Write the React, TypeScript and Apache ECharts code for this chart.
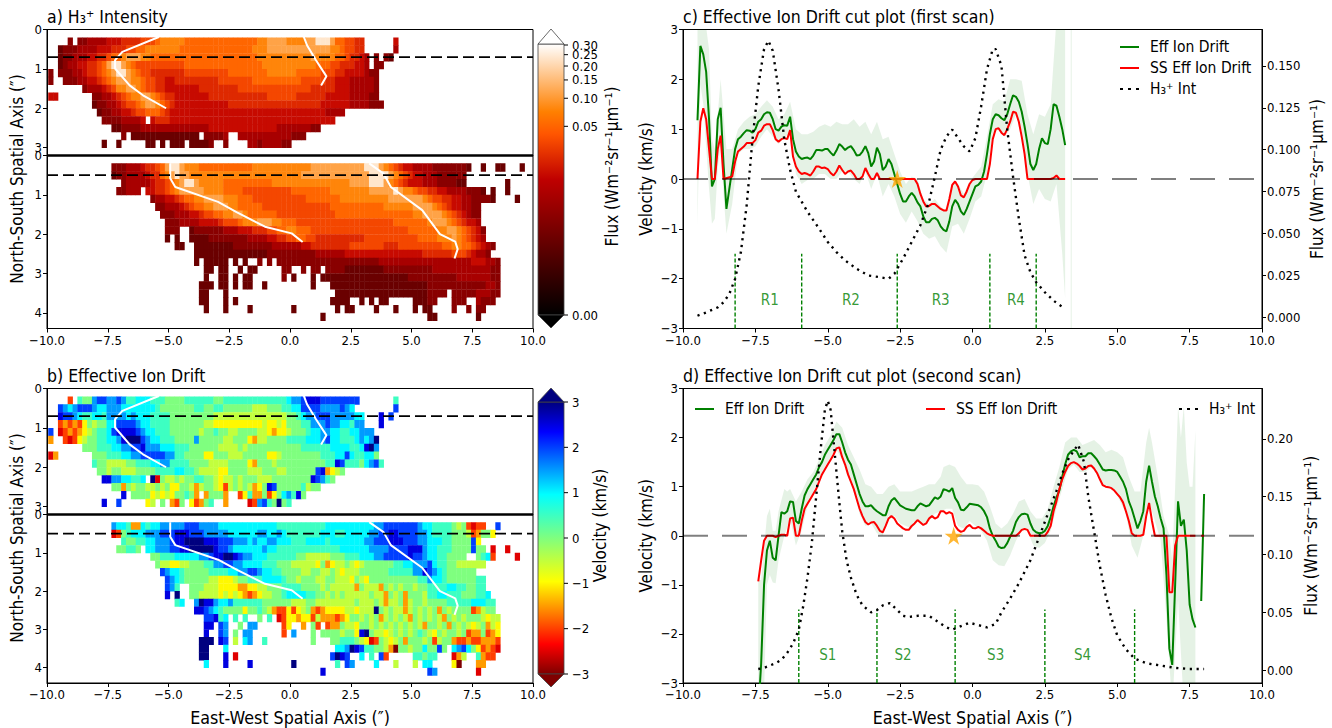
import React, { useEffect, useRef } from "react";
import * as echarts from "echarts";

const FONT = "'DejaVu Sans Condensed','DejaVu Sans',sans-serif";
const xTicks = [-10, -7.5, -5, -2.5, 0, 2.5, 5, 7.5, 10];
const fluxCodes = [0.0005, 0.0018, 0.005, 0.0114, 0.0197, 0.032, 0.05, 0.076, 0.111, 0.232];
const velCodes = [-3, -2.5, -2, -1.5, -1, -0.5, 0, 0.5, 1, 1.5, 2, 2.5, 3];
type Seg = [number, string];

const fluxUpper: Seg[][] = [
  [[4, "1"], [6, "11222233344445556777776666666666666667788887777889998665544"], [71, "3"]],
  [[2, "011122223334445566777777766666666666666677788888888888887765544"], [71, "2"]],
  [[2, "0112223344566788877666666666666666666666677777777777877776654432"], [67, "1"], [69, "1"], [70, "0"]],
  [[2, "0122334456899876555555555566666666666666667777777777766655444332"], [67, "11"]],
  [[0, "1"], [2, "1"], [3, "11223445678998765544444445555555556666666677777766666555443333211"]],
  [[0, "1"], [3, "1"], [4, "1122334567888776554433444444444555555566666666665555544333222221"]],
  [[7, "1222345778876554433333334444444455555555555555544444333222221"]],
  [[0, "3"], [1, "3"], [9, "11223456778876544333333344444444444455555544444433333222211"]],
  [[9, "011223455678876543333333333344444444444444444443333332222111"]],
  [[10, "011223345566654333333333333333333333333333333332222"]],
  [[11, "111122223"], [21, "34443333333333333333333333333333333333"]],
  [[13, "0011112222222222222233333333333333222222211"]],
  [[15, "1"], [17, "00000000000000"], [32, "11112"], [39, "22222222222111"]],
  [[11, "0"], [14, "0"], [20, "00"], [23, "0"], [25, "000"], [29, "000"], [32, "01"], [36, "1"], [41, "221222211"]],
];

const fluxLower: Seg[][] = [
  [[13, "11122234456899877766666666666777777777777888888888889998765433222211111110"], [89, "0"], [92, "00"], [97, "0"]],
  [[13, "0112222344678988777777777777777777777778888888888888899998765433222111111"]],
  [[15, "12222234456789987777766666666667777777777777777888899987654333222111100"], [94, "0"]],
  [[14, "11"], [16, "222"], [20, "3344567888887777666655555555556666666677777777888889877655443322221110"], [91, "0"], [94, "0"]],
  [[21, "1223345667788887776665555555555566666667777777777888888876554433221"], [88, "111"], [91, "0"], [96, "0"]],
  [[22, "1122234566778887766666555555555555556666666666677777788887654332211"]],
  [[23, "111222334556677887666666555555555555666666666666666677888876543211"]],
  [[24, "11122223333455567778887766655555555555555555555666666678887654332"]],
  [[24, "111"], [29, "011111122233344455667766655555555555555555555666666778876543"], [89, "1"]],
  [[24, "0"], [26, "0"], [29, "0000111111112222334455665544444444445555555555566667778765432"]],
  [[26, "00"], [30, "00000000111111112222223344444444555555544455555555566776654321"]],
  [[30, "0000000000000001111111111222222333333333333333344444455543221"]],
  [[30, "0"], [32, "000"], [35, "00"], [38, "0"], [40, "0"], [43, "1"], [45, "1"], [47, "1111111111111111111112222222222222222222333221"]],
  [[32, "00"], [35, "00"], [39, "0"], [41, "00"], [48, "11"], [52, "1"], [54, "11"], [57, "1"], [58, "11100000000111111111122222222222211"]],
  [[32, "0"], [35, "00"], [38, "0"], [40, "00"], [48, "1"], [50, "0"], [54, "0"], [56, "00"], [58, "00000000000000001111111111222222211"]],
  [[31, "00"], [33, "0"], [35, "00"], [38, "0"], [40, "00"], [44, "0"], [54, "0"], [58, "00000000000000000000111111111111221"]],
  [[31, "00"], [36, "0"], [59, "0000000000000000"], [75, "000111"], [81, "1"], [83, "1111122211"]],
  [[31, "00"], [36, "0"], [38, "0"], [58, "0000"], [64, "0"], [66, "0"], [68, "00"], [75, "000"], [78, "11"], [83, "111"], [88, "211"], [91, "1"]],
  [[32, "0"], [36, "0"], [41, "0"], [50, "0"], [59, "0"], [61, "00"], [67, "0"], [71, "0"], [75, "0"], [77, "00"], [83, "1"], [86, "1"], [88, "11"]],
  [[56, "0"], [78, "00"], [88, "0"]],
];

const velUpper: Seg[][] = [
  [[4, "c"], [6, "hggjkkjjkjhhiiihhhgggghhhhhhgghhhhhhhhhhhhhijjklllkkkkkkkk"], [71, "h"]],
  [[2, "kjijkkkjiijjjiiiiiiihggggggghhgghhggggggfffggghhiikkkkjjjjkji"], [71, "k"]],
  [[2, "lkkjihhiihjjjjijiiihhhhgggggggggfffffffffffffffgghijjkkkjjjjjii"], [68, "l"], [70, "k"]],
  [[2, "cdcdcegfggiikkkkjiihhhhgggggggffeeeeeeeeeefeefeggghhjjjkjjiihjj"], [68, "l"]],
  [[0, "k"], [2, "b"], [3, "cdcdefghhikllllkjiihhhggggggfgghggffggggffedeefggghiijjiihhiijjj"]],
  [[0, "d"], [3, "c"], [4, "bcefgghhiijlmmmkjiihhhggggjgggggffgggedffgggghhhhiiijkiihhhijijm"]],
  [[7, "ggghhhiijjkkljjjiiihhhggggggffffgfggggggggggghhhhhhiiiihhilmj"]],
  [[0, "b"], [1, "d"], [9, "ggghhhiijjkkkkkjjhhggggeegggfffgggggeefgggggggghhhiikihhiig"]],
  [[9, "hggffffgghhhiijjhhhhggggffffggggedgggfgggggggggghhlkhhhgijkh"]],
  [[10, "ggfggfffgggghhhhiihhgffffeeggggfffgggffggggggkldefg"]],
  [[11, "lljjiihhi"], [21, "mbgffgfgghhggfeffgfgggfffgggggggglkjhg"]],
  [[13, "ggdgfggffgfgeeggfdfggfecfgfgfdeglkggggghfgg"]],
  [[15, "l"], [17, "ggggefefegghgd"], [32, "dgggd"], [39, "cehddgcegijhlg"]],
  [[11, "l"], [14, "k"], [20, "ef"], [23, "g"], [25, "dcg"], [29, "ecd"], [32, "gh"], [36, "d"], [41, "bcjkhgmgh"]],
];

const velLower: Seg[][] = [
  [[13, "jiihddihiijjjjjkkkjjjjiiiiiiiiiiiihhhhhhhhhhiiiiiiiiiijjkkkkkkkjiihhhhgfgcbc"], [89, "c"], [92, "k"]],
  [[13, "bcghiiijjjkkklllkkkjjjjjiiiiiijjiijihhhhhhhiiihhiiiiijjkkllkkkkjjihhhhgggfcdgge"]],
  [[15, "hgghhiijjjkllmmmmlllkkkjjjijiijjiiihhhiiiihiiiiiiijjkkklllkkkjjiiihhggggke"]],
  [[14, "gg"], [16, "hhg"], [20, "iijjjkkllmmmmmlkkjiiiiiijiihhhhhhhhhhhhhiiiiiijjjjkkkkllljiihhhggggkgg"], [91, "b"], [94, "b"]],
  [[21, "gghhhiiiiijjkllmmlkjjiiihhhhhhggfffffggghhhiiijjkkkkklkkjiihhgggg"], [88, "ghi"], [91, "c"], [96, "b"]],
  [[22, "gffeeffggghhjjkkjjiiiihhhgggfffffegdeffgfefgggggghhiijjjkihhggffffff"]],
  [[23, "kjiihggggghhhhiijjkkjiihhggggffggffgfefffgggggghhhhhjjlkjihgggggg"]],
  [[24, "kjihgggggffeeefgghhhiiiihggfgggffggfffegfegggggggggghhjiihgggggghh"]],
  [[24, "kjh"], [29, "gggfffeeeeddeeffggghhhhggggfgfffffdgfffdgfgfggfgghhhhiihhggh"], [89, "h"]],
  [[24, "l"], [26, "m"], [29, "ggffffefefedcdeffgghiiiihhggfgfgfffffgffdgfgdgggfhhiihhhggghhi"]],
  [[26, "hi"], [30, "jmlljiijhhhhhhggggggfffggffffffffgfffgfdffgdfggfgggghhhhhiiihh"]],
  [[30, "llkjihggggegghgfdccecefgdcdeeeeffefffmgfgffdfgfgfgdgfggggcdfgg"]],
  [[32, "kkl"], [35, "hi"], [38, "h"], [40, "h"], [43, "g"], [45, "h"], [47, "bceedeecfdddcdeggfgfgdfgfgfdgfgfgfdgfgfgggfeff"]],
  [[32, "ll"], [35, "kj"], [39, "g"], [41, "jj"], [48, "ce"], [52, "d"], [54, "gc"], [57, "c"], [58, "ddgffeggfgfgfgfgfgfdggfgdgfgfefgdfe"]],
  [[32, "l"], [35, "kj"], [38, "g"], [40, "jj"], [48, "c"], [50, "j"], [54, "g"], [56, "gg"], [58, "ggfggelmgffefgfgfghgfegfggfgcddgcde"]],
  [[31, "mm"], [33, "m"], [35, "lk"], [38, "f"], [40, "ij"], [44, "h"], [54, "g"], [58, "gghhhgfebcgfefgdgggfgcfggdccdccdddc"]],
  [[31, "mm"], [36, "i"], [59, "iijmlkhhggfdaggf"], [75, "ggiggk"], [81, "g"], [83, "ijkigecdcb"]],
  [[31, "mm"], [36, "l"], [38, "b"], [58, "kmlk"], [64, "i"], [66, "h"], [68, "kc"], [75, "hhg"], [78, "hh"], [83, "bdf"], [88, "hdc"], [91, "c"]],
  [[32, "i"], [36, "l"], [41, "l"], [50, "m"], [59, "h"], [61, "kj"], [67, "i"], [71, "f"], [75, "f"], [77, "ii"], [83, "ea"], [88, "dd"]],
  [[56, "l"], [78, "kj"], [88, "b"]],
];

const ridgeUpperLeft = [[-5.4, 0.19], [-6.9, 0.57], [-7.2, 0.78], [-7.2, 0.99], [-6.6, 1.42], [-6.05, 1.67], [-5.1, 2.0]];
const ridgeUpperRight = [[0.57, 0.19], [0.7, 0.4], [1.07, 0.78], [1.5, 1.19], [1.28, 1.42]];
const ridgeLowerLeft = [[-4.93, 0.2], [-4.93, 0.58], [-4.72, 0.8], [-2.96, 1.18], [-2.2, 1.44], [-1.03, 1.81], [0.07, 1.98], [0.52, 2.2]];
const ridgeLowerRight = [[3.26, 0.2], [3.85, 0.46], [4.15, 0.8], [5.44, 1.39], [6.17, 2.0], [6.8, 2.19], [6.9, 2.38], [6.77, 2.62]];

const cGreen = [[-9.5,1.18],[-9.4,2.67],[-9.3,2.5],[-9.2,2.15],[-9.1,1.2],[-9,-0.15],[-8.9,0],[-8.8,1.2],[-8.7,1.43],[-8.6,0.3],[-8.5,-0.6],[-8.4,-0.2],[-8.3,0.2],[-8.2,0.6],[-8.1,0.8],[-8,0.85],[-7.9,0.92],[-7.8,0.98],[-7.7,0.97],[-7.6,0.93],[-7.5,1],[-7.4,1.15],[-7.3,1.2],[-7.2,1.3],[-7.1,1.34],[-7,1.33],[-6.9,1.2],[-6.8,1],[-6.7,0.97],[-6.6,1.05],[-6.5,1.08],[-6.4,1.07],[-6.3,1.25],[-6.2,0.8],[-6.1,0.55],[-6,0.45],[-5.9,0.4],[-5.8,0.42],[-5.7,0.43],[-5.6,0.4],[-5.5,0.47],[-5.4,0.58],[-5.3,0.58],[-5.2,0.57],[-5.1,0.6],[-5,0.6],[-4.9,0.53],[-4.8,0.47],[-4.7,0.57],[-4.6,0.7],[-4.5,0.65],[-4.4,0.58],[-4.3,0.63],[-4.2,0.66],[-4.1,0.58],[-4,0.47],[-3.9,0.48],[-3.8,0.55],[-3.7,0.66],[-3.6,0.52],[-3.5,0.25],[-3.4,0.35],[-3.3,0.63],[-3.2,0.5],[-3.1,0.18],[-3,0.25],[-2.9,0.4],[-2.8,0.3],[-2.7,0.1],[-2.6,-0.1],[-2.5,-0.3],[-2.4,-0.45],[-2.3,-0.45],[-2.2,-0.35],[-2.1,-0.28],[-2,-0.35],[-1.9,-0.47],[-1.8,-0.55],[-1.7,-0.75],[-1.6,-0.87],[-1.5,-0.87],[-1.4,-0.8],[-1.3,-0.78],[-1.2,-0.83],[-1.1,-0.95],[-1,-1.02],[-0.9,-1.05],[-0.8,-0.85],[-0.7,-0.55],[-0.6,-0.42],[-0.5,-0.5],[-0.4,-0.65],[-0.3,-0.72],[-0.2,-0.6],[-0.1,-0.45],[0,-0.3],[0.1,-0.15],[0.2,-0.12],[0.3,-0.05],[0.4,0.15],[0.5,0.5],[0.6,0.9],[0.7,1.2],[0.8,1.3],[0.9,1.28],[1,1.22],[1.1,1.18],[1.2,1.3],[1.3,1.5],[1.4,1.68],[1.5,1.65],[1.6,1.55],[1.7,1.35],[1.8,1.05],[1.9,0.7],[2,0.3],[2.1,0.18],[2.2,0.3],[2.3,0.6],[2.4,0.82],[2.5,0.72],[2.6,0.7],[2.7,1],[2.8,1.5],[2.9,1.47],[3,1.25],[3.1,1],[3.2,0.68]];
const cRed = [[-9.5,0],[-9.4,1.15],[-9.3,1.42],[-9.2,1.2],[-9.1,0.6],[-9,0],[-8.9,0],[-8.8,0.6],[-8.7,0.87],[-8.6,0],[-8.3,0.05],[-8.2,0.35],[-8.1,0.55],[-8,0.6],[-7.9,0.65],[-7.8,0.72],[-7.7,0.72],[-7.6,0.72],[-7.5,0.78],[-7.4,0.93],[-7.3,0.97],[-7.2,1.07],[-7.1,1.1],[-7,1.1],[-6.9,0.98],[-6.8,0.8],[-6.7,0.75],[-6.6,0.8],[-6.5,0.82],[-6.4,0.8],[-6.3,0.98],[-6.2,0.45],[-6.1,0.25],[-6,0.15],[-5.9,0.1],[-5.8,0.12],[-5.7,0.1],[-5.6,0.07],[-5.5,0.15],[-5.4,0.25],[-5.3,0.25],[-5.2,0.22],[-5.1,0.23],[-5,0.2],[-4.9,0.12],[-4.8,0.07],[-4.7,0.15],[-4.6,0.27],[-4.5,0.18],[-4.4,0.1],[-4.3,0.15],[-4.2,0.17],[-4.1,0.1],[-4,0],[-3.9,0],[-3.8,0.05],[-3.7,0.22],[-3.6,0.1],[-3.5,0],[-3.4,0],[-3.3,0.12],[-3.2,0],[-2,0],[-1.9,-0.1],[-1.8,-0.3],[-1.7,-0.45],[-1.6,-0.55],[-1.5,-0.54],[-1.4,-0.5],[-1.3,-0.5],[-1.2,-0.55],[-1.1,-0.6],[-1,-0.63],[-0.9,-0.63],[-0.8,-0.4],[-0.7,-0.12],[-0.6,-0.05],[-0.5,-0.15],[-0.4,-0.33],[-0.3,-0.37],[-0.2,-0.25],[-0.1,-0.1],[0,-0.02],[0.1,0],[0.5,0],[0.6,0.3],[0.7,0.8],[0.8,1],[0.9,1.02],[1,0.93],[1.1,0.88],[1.2,1],[1.3,1.15],[1.4,1.35],[1.5,1.33],[1.6,1.15],[1.7,0.85],[1.8,0.5],[1.9,0],[2.7,0],[2.8,0.02],[2.9,0.07],[3,0],[3.2,0]];
const cBandUpper = [[-9.5,3.5],[-9.3,3.5],[-9.1,2.6],[-9,0.8],[-8.9,0.6],[-8.7,2],[-8.5,0.6],[-8.3,0.6],[-8.1,1],[-7.9,1.15],[-7.7,1.25],[-7.5,1.3],[-7.3,1.45],[-7.1,1.58],[-6.9,1.45],[-6.7,1.2],[-6.5,1.3],[-6.3,1.55],[-6.1,1],[-5.9,0.9],[-5.7,0.9],[-5.5,0.95],[-5.3,1.05],[-5.1,1.1],[-4.9,1.05],[-4.7,1.15],[-4.5,1.1],[-4.3,1.1],[-4.1,1.2],[-3.9,1.05],[-3.7,1.15],[-3.5,0.9],[-3.3,1.15],[-3.1,0.8],[-2.9,0.85],[-2.7,0.5],[-2.5,0.15],[-2.3,-0.1],[-2.1,0.05],[-1.9,0],[-1.7,-0.4],[-1.5,-0.5],[-1.3,-0.4],[-1.1,-0.55],[-0.9,-0.65],[-0.7,-0.1],[-0.5,-0.1],[-0.3,-0.3],[-0.1,-0.05],[0.1,0.1],[0.3,0.25],[0.5,0.85],[0.7,1.5],[0.9,1.6],[1.1,1.55],[1.3,2],[1.5,2],[1.7,1.97],[1.9,1.3],[2.1,0.9],[2.3,1.3],[2.5,1.25],[2.7,1.5],[2.9,3.2],[3.1,3.5],[3.2,3.5]];
const cBandLower = [[-9.5,-0.95],[-9.4,1.9],[-9.3,1.5],[-9.1,-0.2],[-9,-0.9],[-8.9,-0.8],[-8.8,0.2],[-8.7,0.7],[-8.6,-0.3],[-8.5,-1.1],[-8.3,-0.5],[-8.1,0.5],[-7.9,0.6],[-7.7,0.6],[-7.5,0.65],[-7.3,0.85],[-7.1,1],[-6.9,0.85],[-6.7,0.7],[-6.5,0.85],[-6.3,0.9],[-6.1,0.1],[-5.9,-0.1],[-5.7,-0.02],[-5.5,0],[-5.3,0.1],[-5.1,0.1],[-4.9,0],[-4.7,0],[-4.5,0.15],[-4.3,0.15],[-4.1,0],[-3.9,-0.1],[-3.7,0.15],[-3.5,-0.2],[-3.3,0.1],[-3.1,-0.35],[-2.9,-0.1],[-2.7,-0.35],[-2.5,-0.7],[-2.3,-0.88],[-2.1,-0.65],[-1.9,-0.85],[-1.7,-1.1],[-1.5,-1.2],[-1.3,-1.15],[-1.1,-1.35],[-0.9,-1.48],[-0.7,-0.95],[-0.5,-0.9],[-0.3,-1.1],[-0.1,-0.8],[0.1,-0.45],[0.3,-0.35],[0.5,0.1],[0.7,0.9],[0.9,1],[1.1,0.85],[1.3,1],[1.5,1.3],[1.7,0.95],[1.9,0.1],[2.1,-0.5],[2.3,-0.2],[2.5,-0.4],[2.7,-0.45],[2.9,-0.1],[3.1,-1.5],[3.2,-2.4]];
const cFlux = [[-9.5,0.001],[-9.2,0.003],[-8.8,0.006],[-8.6,0.009],[-8.4,0.014],[-8.2,0.023],[-8,0.039],[-7.8,0.067],[-7.6,0.106],[-7.4,0.138],[-7.2,0.16],[-7.05,0.165],[-6.9,0.159],[-6.7,0.136],[-6.5,0.106],[-6.3,0.088],[-6.1,0.075],[-5.9,0.069],[-5.7,0.063],[-5.5,0.058],[-5.3,0.053],[-5,0.045],[-4.7,0.039],[-4.4,0.034],[-4,0.029],[-3.6,0.025],[-3.2,0.024],[-2.9,0.023],[-2.7,0.026],[-2.4,0.035],[-2.1,0.045],[-1.8,0.055],[-1.5,0.069],[-1.3,0.084],[-1.1,0.1],[-0.9,0.108],[-0.7,0.112],[-0.5,0.107],[-0.3,0.102],[-0.1,0.099],[0.1,0.107],[0.3,0.126],[0.5,0.148],[0.7,0.16],[0.8,0.16],[1,0.15],[1.2,0.112],[1.4,0.084],[1.6,0.059],[1.8,0.037],[2,0.027],[2.2,0.021],[2.5,0.015],[2.8,0.01],[3.2,0.005]];
const cEdge = [[3.41, -3], [3.41, 3]];
const cRegionX = [-8.2, -5.9, -2.6, 0.6, 2.2];
const cRegionLabels = [["R1", -7], ["R2", -4.2], ["R3", -1.1], ["R4", 1.5]];
const cStar = [[-2.6, 0]];

const dGreen = [[-7.35,-3.1],[-7.3,-2.6],[-7.2,-1],[-7.1,-0.3],[-7,-0.1],[-6.9,-0.45],[-6.8,-0.5],[-6.7,0],[-6.6,0.48],[-6.5,0.45],[-6.4,0.5],[-6.3,0.7],[-6.2,0.69],[-6.1,0.3],[-6,0.25],[-5.9,0.55],[-5.8,0.82],[-5.7,0.95],[-5.6,1.05],[-5.5,1.15],[-5.4,1.25],[-5.3,1.4],[-5.2,1.5],[-5.1,1.65],[-5,1.75],[-4.9,1.85],[-4.8,1.95],[-4.7,2.07],[-4.6,2.07],[-4.5,1.9],[-4.4,1.7],[-4.3,1.55],[-4.2,1.45],[-4.1,1.25],[-4,1.05],[-3.9,0.85],[-3.8,0.7],[-3.7,0.6],[-3.6,0.6],[-3.5,0.62],[-3.4,0.55],[-3.3,0.5],[-3.1,0.42],[-3,0.42],[-2.9,0.6],[-2.8,0.72],[-2.7,0.77],[-2.5,0.62],[-2.3,0.55],[-2.1,0.52],[-2,0.52],[-1.9,0.6],[-1.8,0.66],[-1.6,0.6],[-1.5,0.62],[-1.4,0.7],[-1.3,0.78],[-1.2,0.75],[-1.1,0.8],[-1,0.95],[-0.9,0.93],[-0.8,0.9],[-0.7,0.97],[-0.6,0.77],[-0.5,0.68],[-0.4,0.53],[-0.3,0.52],[-0.2,0.58],[-0.1,0.65],[0,0.64],[0.1,0.63],[0.2,0.62],[0.3,0.58],[0.4,0.5],[0.5,0.38],[0.6,0.15],[0.7,0],[0.8,-0.1],[0.9,-0.22],[1,-0.25],[1.1,-0.24],[1.2,-0.15],[1.3,-0.02],[1.4,0.1],[1.5,0.28],[1.6,0.38],[1.7,0.44],[1.8,0.45],[1.9,0.43],[2,0.25],[2.1,0.12],[2.2,0.07],[2.3,0.05],[2.4,0.06],[2.5,0.1],[2.6,0.2],[2.7,0.38],[2.8,0.6],[2.9,0.78],[3,0.92],[3.1,1.2],[3.2,1.45],[3.3,1.65],[3.4,1.72],[3.5,1.75],[3.6,1.72],[3.7,1.6],[3.8,1.62],[3.9,1.62],[4,1.68],[4.1,1.68],[4.2,1.62],[4.3,1.55],[4.4,1.45],[4.5,1.35],[4.6,1.33],[4.7,1.34],[4.8,1.34],[4.9,1.33],[5,1.3],[5.1,1.2],[5.2,1.1],[5.3,0.95],[5.4,0.7],[5.5,0.55],[5.6,0.35],[5.7,0.15],[5.8,0.3],[5.9,0.5],[6,1.1],[6.1,1.43],[6.2,1.1],[6.3,0.8],[6.4,0.6],[6.5,0.35],[6.6,0.15],[6.7,-0.8],[6.8,-2.3],[6.9,-2.63],[7,-1],[7.1,0.7],[7.2,0.2],[7.3,0.33],[7.4,-0.3],[7.5,-1.4],[7.6,-1.7],[7.7,-1.87],[7.8,null],[7.9,-1.33],[8,0.85]];
const dRed = [[-7.4,-0.93],[-7.3,-0.5],[-7.2,-0.1],[-7.1,0],[-6.9,0],[-6.8,-0.03],[-6.7,0],[-6.6,0.02],[-6.5,0.02],[-6.4,0],[-6.3,0.35],[-6.2,0.37],[-6.1,0],[-6,0],[-5.9,0.3],[-5.8,0.55],[-5.7,0.65],[-5.6,0.75],[-5.5,0.85],[-5.4,0.95],[-5.3,1.1],[-5.2,1.25],[-5.1,1.35],[-5,1.45],[-4.9,1.55],[-4.8,1.65],[-4.7,1.78],[-4.6,1.8],[-4.5,1.6],[-4.4,1.45],[-4.3,1.25],[-4.2,1.1],[-4.1,0.95],[-4,0.75],[-3.9,0.55],[-3.8,0.4],[-3.7,0.28],[-3.6,0.23],[-3.5,0.27],[-3.4,0.28],[-3.3,0.2],[-3.2,0.1],[-3.1,0.07],[-3,0.2],[-2.9,0.35],[-2.8,0.4],[-2.7,0.35],[-2.6,0.25],[-2.5,0.2],[-2.4,0.15],[-2.3,0.12],[-2.2,0.12],[-2.1,0.2],[-2,0.25],[-1.9,0.32],[-1.8,0.27],[-1.7,0.22],[-1.6,0.25],[-1.5,0.35],[-1.4,0.4],[-1.3,0.35],[-1.2,0.38],[-1.1,0.5],[-1,0.5],[-0.9,0.45],[-0.8,0.48],[-0.7,0.45],[-0.6,0.2],[-0.5,0.12],[-0.4,0.08],[-0.3,0.1],[-0.2,0.18],[-0.1,0.22],[0,0.16],[0.1,0.15],[0.2,0.18],[0.3,0.15],[0.4,0.1],[0.5,0.05],[0.6,0.02],[0.7,0],[1.5,0],[1.6,0.05],[1.7,0.12],[1.8,0.14],[1.9,0.12],[2,0],[2.5,0],[2.6,0.08],[2.7,0.2],[2.8,0.5],[2.9,0.7],[3,0.95],[3.1,1.15],[3.2,1.3],[3.3,1.42],[3.4,1.48],[3.5,1.5],[3.6,1.47],[3.7,1.42],[3.8,1.35],[3.9,1.37],[4,1.42],[4.1,1.43],[4.2,1.37],[4.3,1.28],[4.4,1.15],[4.5,1.03],[4.6,1],[4.7,0.99],[4.8,0.97],[4.9,0.92],[5,0.85],[5.1,0.78],[5.2,0.68],[5.3,0.5],[5.4,0.3],[5.5,0.05],[5.6,0],[5.8,0],[5.9,0.02],[6,0.4],[6.1,0.67],[6.2,0.3],[6.3,0],[6.7,0],[6.8,-1.15],[6.9,-1.15],[7,-0.2],[7.1,0],[7.7,0],[7.8,null],[7.9,0],[8,0]];
const dBandUpper = [[-7.4,-0.9],[-7.3,-0.9],[-7.1,0.4],[-7,0.55],[-6.9,0.1],[-6.8,0.1],[-6.7,0.5],[-6.5,0.95],[-6.4,0.9],[-6.3,0.95],[-6.1,0.7],[-5.9,0.9],[-5.7,1.15],[-5.5,1.3],[-5.3,1.55],[-5.1,1.85],[-4.9,2.05],[-4.7,2.33],[-4.5,2.2],[-4.3,1.85],[-4.1,1.6],[-3.9,1.35],[-3.7,1.05],[-3.5,1],[-3.3,0.85],[-3.1,0.85],[-2.9,1],[-2.7,1.05],[-2.5,0.9],[-2.3,0.9],[-2.1,0.9],[-1.9,0.95],[-1.7,1],[-1.5,1.05],[-1.3,1.05],[-1.1,1.2],[-1,1.4],[-0.8,1.45],[-0.6,1.4],[-0.4,1.2],[-0.2,1.05],[0,1.05],[0.2,1.03],[0.4,0.9],[0.6,0.6],[0.8,0.25],[1,0.15],[1.2,0.25],[1.4,0.45],[1.6,0.7],[1.8,0.75],[2,0.5],[2.2,0.35],[2.4,0.35],[2.6,0.55],[2.8,1],[3,1.4],[3.2,1.9],[3.4,2],[3.6,2],[3.8,1.85],[4,1.9],[4.2,1.95],[4.4,1.85],[4.6,1.7],[4.8,1.75],[5,1.7],[5.2,1.6],[5.4,1.2],[5.6,0.9],[5.8,0.9],[6,1.9],[6.1,2.2],[6.2,1.9],[6.4,1.2],[6.6,0.4],[6.8,0],[6.9,-0.5],[7,1],[7.1,2.65],[7.2,2],[7.3,2.65],[7.4,1.5],[7.5,1],[7.6,1],[7.7,2.15]];
const dBandLower = [[-7.4,-3.2],[-7.2,-3.2],[-7.1,-1],[-7,-0.8],[-6.9,-0.95],[-6.8,-0.97],[-6.7,-0.5],[-6.5,0],[-6.3,0.35],[-6.1,-0.2],[-5.9,0.1],[-5.7,0.6],[-5.5,0.9],[-5.3,1.15],[-5.1,1.4],[-4.9,1.6],[-4.7,1.75],[-4.5,1.55],[-4.3,1.2],[-4.1,0.9],[-3.9,0.45],[-3.7,0.2],[-3.5,0.25],[-3.3,0.05],[-3.1,0],[-2.9,0.4],[-2.7,0.4],[-2.5,0.25],[-2.3,0.2],[-2.1,0.15],[-1.9,0.3],[-1.7,0.25],[-1.5,0.3],[-1.3,0.45],[-1.1,0.5],[-0.9,0.55],[-0.7,0.55],[-0.5,0.2],[-0.3,0.15],[-0.1,0.3],[0.1,0.2],[0.3,0.1],[0.5,-0.1],[0.7,-0.5],[0.9,-0.6],[1.1,-0.62],[1.3,-0.4],[1.5,-0.1],[1.7,0.1],[1.9,0.1],[2.1,-0.2],[2.3,-0.25],[2.5,-0.15],[2.7,0.1],[2.9,0.55],[3.1,0.95],[3.3,1.35],[3.5,1.45],[3.7,1.3],[3.9,1.3],[4.1,1.4],[4.3,1.25],[4.5,1],[4.7,1],[4.9,0.95],[5.1,0.7],[5.3,0.45],[5.5,-0.2],[5.7,-0.45],[5.9,0],[6.1,0.7],[6.3,0.3],[6.5,-0.1],[6.7,-1.7],[6.9,-3.5],[7.1,-1.3],[7.3,-3.5],[7.5,-3.2],[7.7,-3.2]];
const dFlux = [[-7.4,0.001],[-7.2,0.002],[-7,0.004],[-6.8,0.006],[-6.6,0.009],[-6.4,0.015],[-6.2,0.023],[-6,0.035],[-5.85,0.055],[-5.7,0.08],[-5.55,0.11],[-5.4,0.15],[-5.25,0.19],[-5.1,0.225],[-5,0.233],[-4.9,0.225],[-4.75,0.185],[-4.6,0.145],[-4.5,0.12],[-4.35,0.095],[-4.2,0.08],[-4,0.065],[-3.8,0.056],[-3.5,0.05],[-3.3,0.052],[-3.1,0.056],[-2.85,0.058],[-2.6,0.052],[-2.4,0.047],[-2.2,0.046],[-1.9,0.047],[-1.5,0.047],[-1.2,0.042],[-0.9,0.037],[-0.7,0.035],[-0.4,0.038],[-0.1,0.041],[0.2,0.039],[0.5,0.037],[0.8,0.04],[1,0.05],[1.3,0.062],[1.6,0.075],[2,0.095],[2.3,0.115],[2.6,0.135],[2.9,0.155],[3.1,0.17],[3.3,0.182],[3.5,0.19],[3.65,0.195],[3.85,0.18],[4,0.15],[4.2,0.12],[4.4,0.09],[4.6,0.065],[4.8,0.045],[5,0.03],[5.3,0.018],[5.6,0.01],[6,0.006],[6.5,0.004],[7,0.002],[7.5,0.001],[8,0.001]];
const dRegionX = [-6, -3.3, -0.6, 2.5, 5.6];
const dRegionLabels = [["S1", -5], ["S2", -2.4], ["S3", 0.8], ["S4", 3.8]];
const dStar = [[-0.65, 0]];
const fluxBarTicks = [0.3, 0.25, 0.2, 0.15, 0.1, 0.05, 0];
const velBarTicks = [3, 2, 1, 0, -1, -2, -3];
const cFluxTicks = [0, 0.025, 0.05, 0.075, 0.1, 0.125, 0.15];
const dFluxTicks = [0, 0.05, 0.1, 0.15, 0.2];

const CELL = 0.2;
const decode = (rows: Seg[][], table: (c: string) => number) => {
  const out: number[][] = [];
  rows.forEach((segs, r) => segs.forEach(([start, s]) => {
    for (let k = 0; k < s.length; k++) out.push([-9.95 + CELL * (start + k), CELL * (r + 1), table(s[k])]);
  }));
  return out;
};
const fluxOf = (c: string) => fluxCodes[+c];
const velOf = (c: string) => velCodes[c.charCodeAt(0) - 97];

type Stops = [number, number[]][];
const gistHeatStops: Stops = [[0, [0, 0, 0]], [0.5, [191, 0, 0]], [2 / 3, [255, 85, 0]], [0.75, [255, 128, 0]], [1, [255, 255, 255]]];
const jetStops: Stops = [[0, [0, 0, 127]], [0.11, [0, 0, 255]], [0.34, [0, 255, 255]], [0.5, [127, 255, 127]], [0.66, [255, 255, 0]], [0.89, [255, 0, 0]], [1, [127, 0, 0]]];
const ramp = (stops: Stops, t: number) => {
  t = Math.max(0, Math.min(1, t));
  for (let i = 1; i < stops.length; i++) {
    if (t <= stops[i][0]) {
      const [a, ca] = stops[i - 1], [b, cb] = stops[i], f = (t - a) / (b - a);
      return `rgb(${ca.map((v, k) => Math.round(v + (cb[k] - v) * f)).join(",")})`;
    }
  }
  return "#fff";
};
const fluxT = (v: number) => Math.pow(v / 0.3, 0.2);
const velColor = (v: number) => ramp(jetStops, (3 - v) / 6);
const fluxColor = (v: number) => ramp(gistHeatStops, fluxT(v));

const cellSeries = (idx: number, data: number[][], color: (v: number) => string) => ({
  type: "custom", xAxisIndex: idx, yAxisIndex: idx, data, silent: true, clip: true, z: 1,
  encode: { x: 0, y: 1 },
  renderItem: (_: any, api: any) => {
    const x = api.value(0), y = api.value(1);
    const a = api.coord([x, y]), b = api.coord([x + CELL, y + CELL]);
    return { type: "rect", shape: { x: a[0], y: a[1], width: b[0] - a[0] + 0.4, height: b[1] - a[1] + 0.4 }, style: { fill: color(api.value(2)) } };
  },
});
const overlay = (idx: number, data: number[][], color: string, width: number, dash: any = "solid", z = 3) => ({
  type: "line", xAxisIndex: idx, yAxisIndex: idx, data, symbol: "none", silent: true, z,
  lineStyle: { color, width, type: dash },
});
const bandSeries = (xIdx: number, yIdx: number, up: number[][], lo: number[][]) => {
  const pts = [...up, ...[...lo].reverse()];
  return {
    type: "custom", xAxisIndex: xIdx, yAxisIndex: yIdx, data: pts, silent: true, clip: true, z: 1,
    encode: { x: 0, y: 1 },
    renderItem: (params: any, api: any) => params.dataIndex !== 0 ? null : ({
      type: "polygon", shape: { points: pts.map((p) => api.coord(p)) }, style: { fill: "rgba(0,128,0,0.1)" },
    }),
  };
};
const ticksConf = (vals: number[], fmt: (v: number) => string) => ({
  axisLine: { onZero: false, lineStyle: { color: "#000" } },
  axisTick: { show: true, length: 4, customValues: vals, lineStyle: { color: "#000" } },
  axisLabel: { show: true, customValues: vals, formatter: fmt, color: "#000", fontFamily: FONT, fontSize: 13, margin: 5 },
  splitLine: { show: false },
});
const minus = (s: string) => s.replace("-", "\u2212");
const xAxisConf = (grid: number, show: boolean, name?: string) => ({
  type: "value", gridIndex: grid, min: -10, max: 10, interval: 2.5,
  ...ticksConf(xTicks, (v) => minus(v.toFixed(1))),
  ...(show ? {} : { axisTick: { show: false }, axisLabel: { show: false } }),
  name, nameLocation: "middle", nameGap: 26, nameTextStyle: { fontFamily: FONT, fontSize: 17.7, color: "#000" },
});
const yMapConf = (grid: number, max: number, vals: number[]) => ({
  type: "value", gridIndex: grid, inverse: true, min: 0, max,
  ...ticksConf(vals, (v) => String(v)),
});
const nameStyle = { fontFamily: FONT, fontSize: 17, color: "#000" };

const colorBar = (top: number, bottom: number, tip0: number, tip1: number, stops: Stops, posFn: (v: number) => number, ticks: number[], fmt: (v: number) => string, label: string, labelX: number, topFill: string, botFill: string, barTop: number) => {
  const x0 = 538, x1 = 564, mid = 551;
  const edge = "#444";
  const els: any[] = [
    { type: "rect", shape: { x: x0, y: top, width: x1 - x0, height: bottom - top }, style: { fill: { type: "linear", x: 0, y: 0, x2: 0, y2: 1, colorStops: stops.map(([t, c]) => ({ offset: t, color: `rgb(${c.join(",")})` })) }, stroke: edge, lineWidth: 0.8 } },
    { type: "polygon", shape: { points: [[x0, top], [mid, tip0], [x1, top]] }, style: { fill: topFill, stroke: edge, lineWidth: 0.8 } },
    { type: "polygon", shape: { points: [[x0, bottom], [mid, tip1], [x1, bottom]] }, style: { fill: botFill, stroke: edge, lineWidth: 0.8 } },
    { type: "text", x: labelX, y: (tip0 + tip1) / 2 - 12, rotation: Math.PI / 2, style: { text: label, fontFamily: FONT, fontSize: 17, fill: "#000", align: "center", verticalAlign: "middle" } },
  ];
  ticks.forEach((v) => {
    const y = bottom - (bottom - barTop) * posFn(v);
    els.push({ type: "line", shape: { x1, y1: y, x2: x1 + 4, y2: y }, style: { stroke: "#000", lineWidth: 1 } });
    els.push({ type: "text", x: x1 + 8, y, style: { text: fmt(v), fontFamily: FONT, fontSize: 13, fill: "#000", verticalAlign: "middle" } });
  });
  return els;
};
const plainText = (text: string, x: number, y: number, size: number, rotation = 0) => ({
  type: "text", x, y, rotation, style: { text, fontFamily: FONT, fontSize: size, fill: "#000", align: rotation ? "center" : "left", verticalAlign: "middle" },
});
const regionSeries = (xIdx: number, yIdx: number, xs: number[]) => xs.map((x) => ({
  type: "line", xAxisIndex: xIdx, yAxisIndex: yIdx, symbol: "none", silent: true, z: 3,
  data: [[x, -3], [x, -1.5]], lineStyle: { color: "#008000", width: 1.4, type: [4, 2] },
}));
const labelSeries = (xIdx: number, yIdx: number, items: any[]) => ({
  type: "scatter", xAxisIndex: xIdx, yAxisIndex: yIdx, symbolSize: 1, silent: true, itemStyle: { color: "transparent" },
  data: items.map(([n, x]) => ({ name: n, value: [x, -2.42] })),
  label: { show: true, position: "inside", formatter: "{b}", color: "#008000", fontFamily: FONT, fontSize: 15 },
  z: 4,
});
const starPath = "path://M50 0 L61 35 L98 35 L68 57 L79 91 L50 70 L21 91 L32 57 L2 35 L39 35 Z";
const starSeries = (xIdx: number, yIdx: number, data: number[][]) => ({
  type: "scatter", xAxisIndex: xIdx, yAxisIndex: yIdx, data, symbol: starPath, symbolSize: 18, silent: true, z: 6,
  itemStyle: { color: "#ffa500" },
});
const zeroLine = (xIdx: number, yIdx: number) => ({
  type: "line", xAxisIndex: xIdx, yAxisIndex: yIdx, data: [[-10, 0], [10, 0]], symbol: "none", silent: true, z: 5,
  lineStyle: { color: "rgba(0,0,0,0.5)", width: 2, type: [25, 14] },
});
const curve = (name: string, xIdx: number, yIdx: number, data: any[], color: string, dash: any = "solid", width = 2) => ({
  name, type: "line", xAxisIndex: xIdx, yAxisIndex: yIdx, data, symbol: "none", z: 4,
  lineStyle: { color, width, type: dash }, itemStyle: { color },
});
const LGREEN = "Eff Ion Drift", LRED = "SS Eff Ion Drift", LDOT = "H\u2083\u207A Int";
const lineIcon = "path://M0 0H19V2H0Z";
const dotIcon = "path://M0 0H3V2H0Z M8 0H11V2H8Z M16 0H19V2H16Z";
const legendData = (n: string) => ({ name: n, icon: n === LDOT ? dotIcon : lineIcon });
const legendBase = { itemWidth: 19, itemHeight: 2, selectedMode: false, itemGap: 5, padding: 0, textStyle: { fontFamily: FONT, fontSize: 15.5, color: "#000", padding: [0, 0, 0, 6] } };
const sepLine = (y: number) => ({ type: "line", z: 50, shape: { x1: 47, y1: y, x2: 533, y2: y }, style: { stroke: "#000", lineWidth: 2.6 } });

const option: any = {
  animation: false,
  backgroundColor: "#fff",
  grid: [
    { left: 47, top: 29.5, width: 486, height: 126 },
    { left: 47, top: 155.5, width: 486, height: 173 },
    { left: 47, top: 388.5, width: 486, height: 126 },
    { left: 47, top: 514.5, width: 486, height: 173 },
    { left: 683, top: 29.5, width: 579, height: 299 },
    { left: 683, top: 388.5, width: 579, height: 299 },
  ].map((g) => ({ ...g, show: true, borderColor: "#000", borderWidth: 1, containLabel: false })),
  xAxis: [
    xAxisConf(0, false), xAxisConf(1, true), xAxisConf(2, false),
    xAxisConf(3, true, "East-West Spatial Axis (\u2033)"),
    xAxisConf(4, true), xAxisConf(5, true, "East-West Spatial Axis (\u2033)"),
  ],
  yAxis: [
    yMapConf(0, 3.2, [0, 1, 2, 3]), yMapConf(1, 4.4, [0, 1, 2, 3, 4]),
    yMapConf(2, 3.2, [0, 1, 2, 3]), yMapConf(3, 4.4, [0, 1, 2, 3, 4]),
    { type: "value", gridIndex: 4, min: -3, max: 3, interval: 1, ...ticksConf([-3, -2, -1, 0, 1, 2, 3], (v) => minus(String(v))), name: "Velocity (km/s)", nameLocation: "middle", nameGap: 29, nameTextStyle: nameStyle },
    { type: "value", gridIndex: 5, min: -3, max: 3, interval: 1, ...ticksConf([-3, -2, -1, 0, 1, 2, 3], (v) => minus(String(v))), name: "Velocity (km/s)", nameLocation: "middle", nameGap: 29, nameTextStyle: nameStyle },
    { type: "value", gridIndex: 4, position: "right", min: -0.0066, max: 0.1717, ...ticksConf(cFluxTicks, (v) => v.toFixed(3)), name: "Flux (Wm\u207B\u00B2sr\u207B\u00B9\u03BCm\u207B\u00B9)", nameLocation: "middle", nameGap: 46, nameRotate: 90, nameTextStyle: nameStyle },
    { type: "value", gridIndex: 5, position: "right", min: -0.0111, max: 0.2436, ...ticksConf(dFluxTicks, (v) => v.toFixed(2)), name: "Flux (Wm\u207B\u00B2sr\u207B\u00B9\u03BCm\u207B\u00B9)", nameLocation: "middle", nameGap: 40, nameRotate: 90, nameTextStyle: nameStyle },
  ],
  legend: [
    { ...legendBase, left: 1120, top: 39, orient: "vertical", data: [LGREEN, LRED, LDOT].map(legendData) },
    { ...legendBase, left: 695, top: 401, data: [legendData(LGREEN)] },
    { ...legendBase, left: 926, top: 401, data: [legendData(LRED)] },
    { ...legendBase, left: 1179, top: 401, data: [legendData(LDOT)] },
  ],
  series: [
    cellSeries(0, decode(fluxUpper, fluxOf), fluxColor),
    cellSeries(1, decode(fluxLower, fluxOf), fluxColor),
    cellSeries(2, decode(velUpper, velOf), velColor),
    cellSeries(3, decode(velLower, velOf), velColor),
    ...[0, 2].flatMap((i) => [
      overlay(i, ridgeUpperLeft, "#fff", 2), overlay(i, ridgeUpperRight, "#fff", 2),
      overlay(i, [[-10, 0.7], [10, 0.7]], "#000", 1.7, [11, 5], 4),
      overlay(i + 1, ridgeLowerLeft, "#fff", 2), overlay(i + 1, ridgeLowerRight, "#fff", 2),
      overlay(i + 1, [[-10, 0.5], [10, 0.5]], "#000", 1.7, [11, 5], 4),
    ]),
    bandSeries(4, 4, cBandUpper, cBandLower),
    overlay(4, cEdge, "rgba(0,128,0,0.1)", 1, "solid", 1),
    curve(LGREEN, 4, 4, cGreen, "#008000"),
    curve(LRED, 4, 4, cRed, "#ff0000"),
    curve(LDOT, 4, 6, cFlux, "#000", [2.2, 4.6], 2.4),
    zeroLine(4, 4),
    ...regionSeries(4, 4, cRegionX),
    labelSeries(4, 4, cRegionLabels),
    starSeries(4, 4, cStar),
    bandSeries(5, 5, dBandUpper, dBandLower),
    curve(LGREEN, 5, 5, dGreen, "#008000"),
    curve(LRED, 5, 5, dRed, "#ff0000"),
    curve(LDOT, 5, 7, dFlux, "#000", [2.2, 4.6], 2.4),
    zeroLine(5, 5),
    ...regionSeries(5, 5, dRegionX),
    labelSeries(5, 5, dRegionLabels),
    starSeries(5, 5, dStar),
  ],
  graphic: { elements: [
    plainText("a) H\u2083\u207A Intensity", 47, 17, 17.5),
    plainText("b) Effective Ion Drift", 47, 376, 17.5),
    plainText("c) Effective Ion Drift cut plot (first scan)", 683, 17, 17.5),
    plainText("d) Effective Ion Drift cut plot (second scan)", 683, 376, 17.5),
    plainText("North-South Spatial Axis (\u2033)", 17, 179, 17, Math.PI / 2),
    plainText("North-South Spatial Axis (\u2033)", 17, 538, 17, Math.PI / 2),
    sepLine(155.5), sepLine(514.5),
    ...colorBar(44, 315, 29, 328, [...gistHeatStops].reverse().map(([t, c]) => [1 - t, c]) as Stops, fluxT, fluxBarTicks, (v) => v.toFixed(2), "Flux (Wm\u207B\u00B2sr\u207B\u00B9\u03BCm\u207B\u00B9)", 612, "#fff", "#000", 45),
    ...colorBar(402, 674, 388, 687, jetStops, (v) => (v + 3) / 6, velBarTicks, (v) => minus(String(v)), "Velocity (km/s)", 600, "#00007f", "#7f0000", 402),
  ] },
};

export default function App() {
  const ref = useRef<HTMLDivElement>(null);
  useEffect(() => {
    const chart = echarts.init(ref.current!, undefined, { renderer: "svg" });
    chart.setOption(option);
    return () => chart.dispose();
  }, []);
  return <div ref={ref} style={{ position: "fixed", left: 0, top: 0, width: 1332, height: 728 }} />;
}
